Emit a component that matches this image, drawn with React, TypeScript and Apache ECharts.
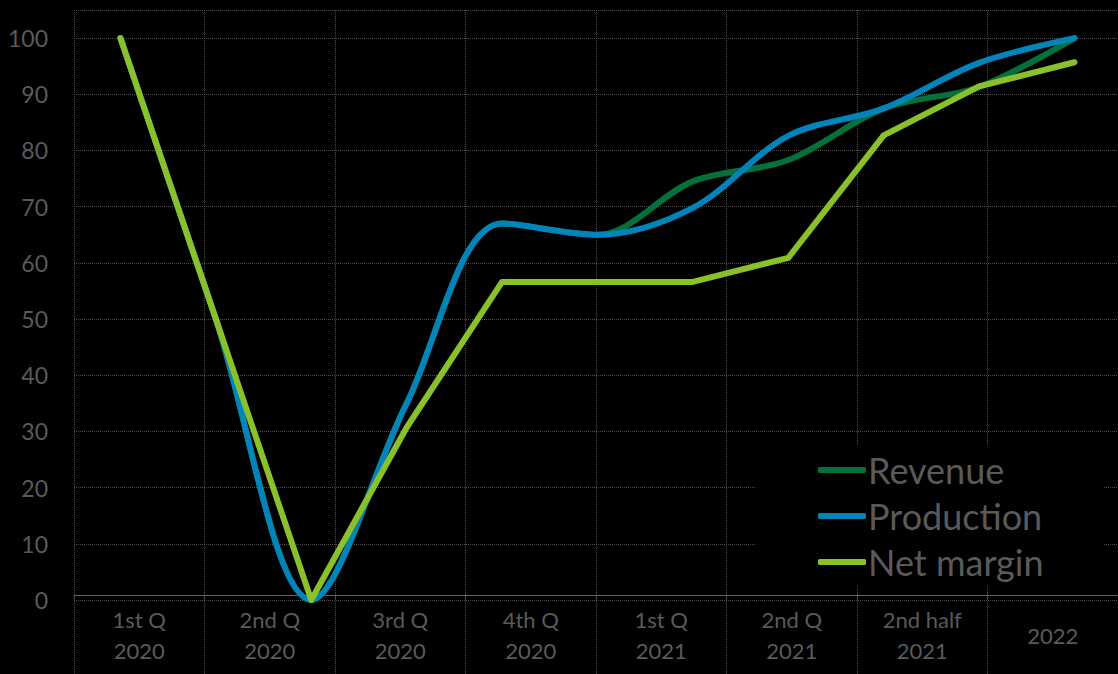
import React, { useEffect, useRef } from "react";
import * as echarts from "echarts";

const categories = [
  "1st Q\n2020",
  "2nd Q\n2020",
  "3rd Q\n2020",
  "4th Q\n2020",
  "1st Q\n2021",
  "2nd Q\n2021",
  "2nd half\n2021",
  "2022",
];
const pointIndex = [0, 1, 2, 3, 4, 5, 6, 7, 8, 9, 10];
const revenue = [100, 50, 0, 35, 67, 65, 74.5, 78.3, 87.5, 91.3, 100];
const production = [100, 50, 0, 35, 67, 65, 69.8, 82.6, 87.5, 95.6, 100];
const netMargin = [100, 50, 0, 30.7, 56.6, 56.6, 56.6, 60.9, 82.7, 91.4, 95.7];
const seriesNames = ["Revenue", "Production", "Net margin"];
const seriesColors = ["#05713a", "#0084ba", "#8ac12a"];
const yMin = 0;
const yMax = 105;
const yStep = 10;

const FONT = "Lato, 'Noto Sans', sans-serif";
const TEXT = "#5a5a5a";
const GRID = "#4d4d4d";

export default function App() {
  const ref = useRef<HTMLDivElement>(null);
  useEffect(() => {
    if (!ref.current) return;
    const chart = echarts.init(ref.current, null, { renderer: "svg" });
    const mk = (vals: number[]) => pointIndex.map((i) => [i, vals[i]]);
    const datasets = [revenue, production, netMargin];
    const smooth = [true, true, false];
    chart.setOption({
      animation: false,
      backgroundColor: "#000",
      grid: { left: 74, right: -12, top: 10, bottom: 74 },
      legend: {
        data: seriesNames,
        orient: "vertical",
        left: 755,
        top: 446,
        padding: [4, 60, 4, 63],
        backgroundColor: "#000",
        itemWidth: 48,
        itemHeight: 6,
        itemGap: 6,
        icon: "roundRect",
        textStyle: {
          fontFamily: FONT,
          fontSize: 36,
          lineHeight: 40,
          color: TEXT,
          padding: [0, 0, 0, -3],
        },
      },
      xAxis: [
        {
          type: "category",
          data: categories,
          boundaryGap: true,
          offset: -5,
          axisLine: {
            show: true,
            onZero: false,
            lineStyle: { color: "#6a6a6a", type: [3, 1], width: 1 },
          },
          axisTick: {
            show: true,
            length: 80,
            interval: 0,
            lineStyle: { color: GRID, type: "dotted" },
          },
          splitLine: {
            show: true,
            interval: 0,
            lineStyle: { color: GRID, type: "dotted" },
          },
          axisLabel: {
            interval: 0,
            margin: 9,
            fontFamily: FONT,
            fontSize: 22,
            lineHeight: 31,
            color: TEXT,
            formatter: (v: string) => (v.includes("\n") ? v : "{c|" + v + "}"),
            rich: {
              c: { fontFamily: FONT, fontSize: 22, lineHeight: 62, color: TEXT },
            },
          },
        },
        {
          type: "value",
          show: false,
          min: -0.487,
          max: 10.456,
          splitLine: { show: false },
        },
      ],
      yAxis: {
        type: "value",
        min: yMin,
        max: yMax,
        interval: yStep,
        axisLine: { show: false },
        axisTick: { show: false },
        splitLine: { show: true, lineStyle: { color: GRID, type: "dotted" } },
        axisLabel: {
          margin: 26,
          fontFamily: FONT,
          fontSize: 23,
          color: TEXT,
          formatter: (v: number) => (v > 100 ? "" : String(v)),
        },
      },
      series: seriesNames.map((name, k) => ({
        name,
        type: "line",
        xAxisIndex: 1,
        data: mk(datasets[k]),
        smooth: smooth[k] ? 0.33 : false,
        showSymbol: false,
        symbol: "none",
        clip: false,
        itemStyle: { color: seriesColors[k] },
        lineStyle: { color: seriesColors[k], width: 6, cap: "round", join: "round" },
        z: 2 + k,
      })),
    });
    return () => chart.dispose();
  }, []);
  return (
    <div
      ref={ref}
      style={{ position: "fixed", left: 0, top: 0, width: 1118, height: 674 }}
    />
  );
}
